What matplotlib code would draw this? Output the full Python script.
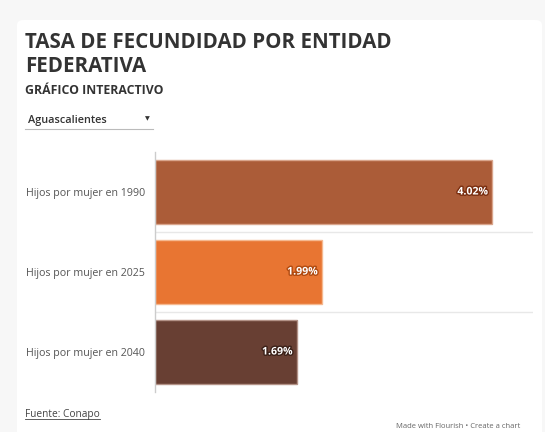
import matplotlib.pyplot as plt
from matplotlib.patches import FancyBboxPatch
import matplotlib.patheffects as pe

plt.rcParams['font.family'] = ['Open Sans', 'DejaVu Sans']

# datos
categorias = ['Hijos por mujer en 1990', 'Hijos por mujer en 2025', 'Hijos por mujer en 2040']
valores = [4.02, 1.99, 1.69]
colores = ['#ab5c38', '#e87532', '#683f33']
bordes = ['#d9a58c', '#f5b88f', '#b39287']
contornos = ['#7a2e10', '#b04a10', '#3a2018']
entidad = 'Aguascalientes'

W, H = 545, 432
fig = plt.figure(figsize=(W / 100, H / 100), dpi=100)
fig.patch.set_facecolor('#f7f7f7')

# tarjeta blanca
card = FancyBboxPatch((17 / W, -0.05), (542 - 17) / W, (1 - 20 / H) + 0.05,
                      boxstyle='round,pad=0,rounding_size=0.012',
                      transform=fig.transFigure, facecolor='white',
                      edgecolor='none', zorder=-10)
fig.patches.append(card)

def fx(px):
    return px / W

def fy(py):
    return 1 - py / H

fig.text(fx(25), fy(42), 'TASA DE FECUNDIDAD POR ENTIDAD', fontsize=14.8,
         fontweight='bold', color='#333333', va='center', ha='left')
fig.text(fx(25), fy(66), 'FEDERATIVA', fontsize=14.8,
         fontweight='bold', color='#333333', va='center', ha='left')
fig.text(fx(25), fy(91), 'GRÁFICO INTERACTIVO', fontsize=8.8,
         fontweight='bold', color='#333333', va='center', ha='left')

# selector
fig.text(fx(28), fy(120), entidad, fontsize=7.8, fontweight='semibold',
         color='#333333', va='center', ha='left')
fig.text(fx(147), fy(119), '▼', fontsize=4.5, color='#333333', va='center', ha='center')
fig.add_artist(plt.Line2D([fx(25), fx(153)], [fy(129), fy(129)],
                          transform=fig.transFigure, color='#bbbbbb', lw=0.8))

# eje
ax = fig.add_axes([fx(155), fy(392), fx(533) - fx(155), (392 - 152) / H])
ax.set_zorder(1)
ax.set_facecolor('none')
y = list(range(len(categorias)))
bars = ax.barh(y, valores, height=0.8, color=colores, edgecolor=bordes, linewidth=1)
ax.set_ylim(len(categorias) - 0.5, -0.5)
ax.set_xlim(0, 4.51)
ax.set_yticks(y)
ax.set_yticklabels(categorias, fontsize=7.7, color='#555555')
ax.tick_params(axis='y', length=0, pad=7)
ax.set_xticks([])
for s in ['top', 'right', 'bottom']:
    ax.spines[s].set_visible(False)
ax.spines['left'].set_color('#cccccc')
ax.spines['left'].set_linewidth(1)
for b in [0.5, 1.5]:
    ax.axhline(b, color='#e8e8e8', lw=1, zorder=0)

for yi, v, c in zip(y, valores, contornos):
    ax.annotate(f'{v:.2f}%', (v, yi), xytext=(-3, 0), textcoords='offset points',
                ha='right', va='center', fontsize=7.6, fontweight='bold', color='white',
                path_effects=[pe.withStroke(linewidth=2, foreground=c)])

# fuente
t = fig.text(fx(25), fy(415), 'Fuente: Conapo', fontsize=7.3, color='#444444',
             va='center', ha='left')
fig.canvas.draw()
bb = t.get_window_extent().transformed(fig.transFigure.inverted())
fig.add_artist(plt.Line2D([bb.x0, bb.x1], [bb.y0 + 0.003, bb.y0 + 0.003],
                          transform=fig.transFigure, color='#444444', lw=0.6))

fig.text(fx(520), fy(427), 'Made with Flourish • Create a chart', fontsize=5.5,
         color='#666666', va='center', ha='right')

fig.savefig('out.png', dpi=100, facecolor=fig.get_facecolor())
